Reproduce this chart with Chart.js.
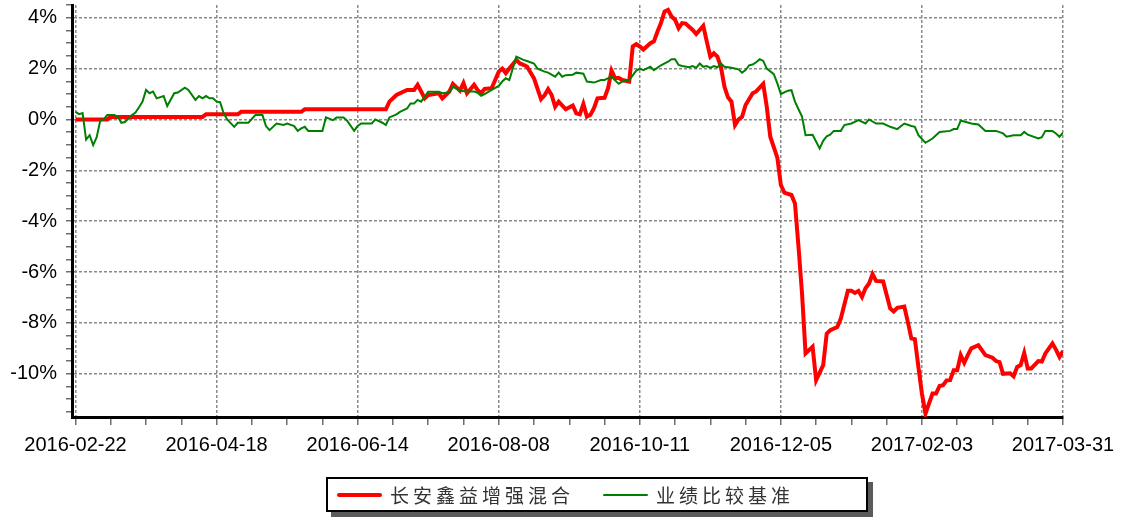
<!DOCTYPE html>
<html>
<head>
<meta charset="utf-8">
<script src="https://cdn.jsdelivr.net/npm/chart.js@4.4.1/dist/chart.umd.min.js"></script>
<style>
    html, body { margin: 0; padding: 0; background: #fff; }
    #wrap { position: relative; width: 1122px; height: 519px; }
    #legend {
        position: absolute; left: 326px; top: 477px; width: 538px; height: 31px;
        border: 2px solid #000; background: #fff; box-shadow: 5px 5px 0 #5a5a5a;
        font-family: "Noto Sans CJK SC", sans-serif; font-size: 19px; letter-spacing: 4px; color: #333;
    }
    .item { position: absolute; top: 0; height: 31px; display: flex; align-items: center; white-space: nowrap; }
    .swatch { width: 45px; margin-right: 8px; border-radius: 2px; }
</style>
</head>
<body>
<div id="wrap">
    <canvas id="chart" width="1122" height="519"></canvas>
    <div id="legend"></div>
</div>
<script>
// 1. x축 눈금 날짜 (40칸마다 하나씩)
const tickDates = ['2016-02-22', '2016-04-18', '2016-06-14', '2016-08-08', '2016-10-11', '2016-12-05', '2017-02-03', '2017-03-31'];
const seriesNames = ['长安鑫益增强混合', '业绩比较基准'];

// 2. 펀드 수익률 (%) - 위치(거래일 순번)와 값
const fundDays = [0, 9, 10, 36, 37, 46, 47, 64, 65, 88, 89, 91, 94, 96, 97, 98, 99, 100, 103, 104,
    106, 107, 109, 110, 111, 113, 114, 115, 116, 118, 119, 120, 121, 122, 123, 125, 126, 127, 128, 130,
    132, 133, 134, 135, 136, 137, 139, 141, 142, 143, 144, 145, 146, 147, 148, 150, 151, 152, 153, 154,
    155, 157, 158, 159, 160, 161, 163, 164, 165, 166, 167, 168, 169, 170, 171, 172, 173, 175, 176, 178,
    179, 180, 181, 182, 183, 184, 185, 186, 187, 188, 189, 190, 192, 193, 195, 196, 197, 199, 200, 201,
    203, 204, 205, 206, 207, 209, 210, 212, 213, 214, 216, 217, 219, 220, 221, 222, 223, 224, 225, 226,
    227, 229, 231, 232, 233, 235, 236, 237, 238, 239, 240, 241, 243, 244, 245, 246, 247, 248, 249, 250,
    251, 252, 253, 254, 256, 257, 258, 260, 261, 262, 263, 265, 266, 267, 268, 269, 270, 271, 273, 274,
    275, 277, 278, 279, 280];
const fundValues = [0, 0, 0.1, 0.1, 0.2, 0.2, 0.3, 0.3, 0.4, 0.4, 0.7, 0.96, 1.16, 1.16, 1.36, 1.1, 0.83, 0.96, 1.03, 0.83,
    1.1, 1.4, 1.13, 1.43, 1.03, 1.36, 1.16, 1.03, 1.2, 1.23, 1.55, 1.88, 2.0, 1.82, 2.0, 2.34, 2.2, 2.15, 2.08, 1.62,
    0.8, 0.95, 1.19, 0.96, 0.5, 0.7, 0.4, 0.55, 0.24, 0.2, 0.61, 0.11, 0.18, 0.44, 0.83, 0.85, 1.23, 1.92, 1.62, 1.64,
    1.55, 1.49, 2.87, 2.96, 2.87, 2.75, 3.0, 3.07, 3.45, 3.79, 4.24, 4.31, 4.05, 3.92, 3.59, 3.79, 3.77, 3.52, 3.36, 3.68,
    3.06, 2.47, 2.6, 2.47, 2.07, 1.29, 0.87, 0.7, -0.22, 0, 0.1, 0.57, 1.03, 1.1, 1.4, 0.5, -0.68, -1.5, -2.58, -2.88,
    -2.97, -3.3, -5.0, -6.84, -9.2, -8.94, -10.25, -9.66, -8.42, -8.29, -8.16, -7.83, -6.74, -6.74, -6.82, -6.74, -6.98, -6.64, -6.45, -6.08,
    -6.35, -6.37, -7.43, -7.55, -7.41, -7.36, -7.96, -8.61, -8.64, -9.73, -10.78, -11.57, -10.78, -10.78, -10.48, -10.45, -10.26, -10.25, -9.86, -9.86,
    -9.27, -9.57, -9.27, -9.0, -8.88, -9.07, -9.27, -9.37, -9.5, -9.54, -10.0, -9.98, -10.1, -9.73, -9.66, -9.18, -9.79, -9.79, -9.5, -9.52,
    -9.2, -8.81, -9.05, -9.34, -9.1];

// 3. 업적 비교 기준 (%)
const benchDays = [0, 1, 2, 3, 4, 5, 6, 7, 8, 9, 11, 12, 13, 14, 16, 17, 18, 19, 20, 21,
    22, 23, 25, 26, 28, 29, 31, 32, 34, 35, 36, 37, 38, 39, 40, 41, 42, 43, 45, 46,
    49, 51, 53, 54, 55, 57, 59, 60, 62, 63, 64, 65, 66, 70, 71, 73, 74, 76, 77, 79,
    80, 81, 84, 85, 87, 88, 89, 91, 92, 94, 95, 96, 97, 98, 100, 103, 104, 106, 107, 109,
    111, 113, 114, 115, 116, 118, 120, 121, 122, 123, 125, 127, 128, 130, 131, 133, 134, 136, 137, 138,
    139, 141, 142, 144, 145, 147, 149, 150, 152, 154, 155, 157, 159, 160, 161, 163, 164, 166, 168, 169,
    170, 171, 172, 174, 175, 176, 177, 178, 179, 180, 181, 182, 183, 184, 186, 188, 189, 190, 191, 192,
    193, 194, 195, 196, 198, 199, 200, 202, 203, 204, 205, 206, 207, 209, 211, 212, 213, 214, 215, 217,
    218, 220, 222, 224, 225, 227, 229, 231, 233, 235, 237, 238, 239, 241, 243, 245, 248, 249, 250, 251,
    252, 254, 256, 258, 261, 263, 264, 266, 268, 269, 270, 273, 274, 275, 277, 278, 279, 280];
const benchValues = [0.3, 0.21, 0.25, -0.79, -0.62, -1.01, -0.7, -0.05, 0, 0.17, 0.17, 0.1, -0.13, -0.1, 0.17, 0.27, 0.48, 0.7, 1.16, 1.03,
    1.1, 0.83, 0.92, 0.53, 1.03, 1.06, 1.25, 1.16, 0.77, 0.92, 0.83, 0.92, 0.83, 0.83, 0.7, 0.68, 0.24, 0, -0.29, -0.13,
    -0.13, 0.17, 0.17, -0.26, -0.42, -0.16, -0.22, -0.16, -0.26, -0.45, -0.35, -0.29, -0.45, -0.45, 0.08, -0.03, 0.08, 0.08, -0.05, -0.45,
    -0.26, -0.16, -0.16, 0, -0.13, -0.22, 0.08, 0.2, 0.3, 0.43, 0.63, 0.63, 0.77, 0.7, 1.09, 1.09, 1.03, 1.06, 1.29, 1.13,
    1.1, 1.1, 1.05, 0.93, 1.0, 1.16, 1.32, 1.49, 1.62, 1.55, 2.47, 2.34, 2.3, 2.2, 2.0, 1.88, 1.84, 1.68, 1.84, 1.68,
    1.74, 1.76, 1.84, 1.8, 1.49, 1.45, 1.55, 1.55, 1.68, 1.4, 1.49, 1.55, 1.92, 2.0, 1.94, 2.07, 1.94, 2.13, 2.27, 2.37,
    2.37, 2.14, 2.1, 2.05, 2.1, 2.03, 2.2, 2.07, 2.1, 2.03, 2.1, 2.05, 2.2, 2.07, 2.03, 1.97, 1.84, 1.94, 2.13, 2.16,
    2.25, 2.37, 2.3, 2.0, 1.78, 1.42, 1.0, 1.13, 1.15, 0.7, 0.4, 0.11, -0.62, -0.6, -1.14, -0.84, -0.66, -0.6, -0.45, -0.45,
    -0.22, -0.16, -0.03, -0.16, 0, -0.16, -0.16, -0.29, -0.38, -0.16, -0.26, -0.29, -0.62, -0.92, -0.75, -0.49, -0.45, -0.38, -0.38, -0.05,
    -0.08, -0.16, -0.2, -0.45, -0.45, -0.55, -0.68, -0.62, -0.62, -0.49, -0.6, -0.75, -0.7, -0.45, -0.45, -0.55, -0.68, -0.52];

const seriesColors = ['#ff0000', '#008000'];

// 눈금 위치: x는 10칸마다(40칸마다 라벨), y는 0.5%마다(2%마다 라벨)
const xTickValues = [];
for (let v = 0; v <= 280; v += 10) xTickValues.push(v);
const yTickValues = [];
for (let v = -23; v <= 9; v++) yTickValues.push(v / 2);

const isMajorX = v => v % 40 === 0;
const isMajorY = v => Math.abs(v % 2) < 1e-9;

Chart.defaults.font.family = '"Liberation Sans", Arial, sans-serif';
Chart.defaults.font.size = 20;
Chart.defaults.color = '#000';

const gridStyle = (isMajor) => ({
    color: c => (c.tick && isMajor(c.tick.value)) ? '#8a8a8a' : 'rgba(0,0,0,0)',
    lineWidth: 1.5,
    tickColor: '#6e6e6e',
    tickWidth: 1.5
});

// 4. 그래프 그리기
new Chart(document.getElementById('chart'), {
    type: 'line',
    data: {
        datasets: [
            {
                label: seriesNames[0],
                data: fundDays.map((d, i) => ({ x: d, y: fundValues[i] })),
                borderColor: seriesColors[0],
                borderWidth: 4,
                pointRadius: 0,
                tension: 0,
                order: 1
            },
            {
                label: seriesNames[1],
                data: benchDays.map((d, i) => ({ x: d, y: benchValues[i] })),
                borderColor: seriesColors[1],
                borderWidth: 2,
                pointRadius: 0,
                tension: 0,
                order: 0
            }
        ]
    },
    options: {
        responsive: false,
        animation: false,
        devicePixelRatio: 1,
        layout: { padding: { top: 5, right: 59, bottom: 42, left: 0 } },
        plugins: { legend: { display: false }, tooltip: { enabled: false } },
        scales: {
            x: {
                type: 'linear',
                min: -1,
                max: 280,
                afterBuildTicks: s => { s.ticks = xTickValues.map(v => ({ value: v })); },
                afterFit: s => { s.height = 60; s.paddingLeft = 0; s.paddingRight = 0; },
                ticks: {
                    autoSkip: false,
                    maxRotation: 0,
                    padding: 8,
                    callback: v => isMajorX(v) ? tickDates[v / 40] : ''
                },
                grid: { ...gridStyle(isMajorX), tickLength: 8 },
                border: { display: true, color: '#000', width: 3, dash: [3, 2] }
            },
            y: {
                min: -11.7,
                max: 4.5,
                afterBuildTicks: s => { s.ticks = yTickValues.map(v => ({ value: v })); },
                afterFit: s => { s.width = 72; s.paddingTop = 0; s.paddingBottom = 0; },
                ticks: {
                    autoSkip: false,
                    padding: 9,
                    callback: v => isMajorY(v) ? v + '%' : ''
                },
                grid: { ...gridStyle(isMajorY), tickLength: 6 },
                border: { display: true, color: '#000', width: 3, dash: [3, 2] }
            }
        }
    }
});

// 5. 범례 (테두리 + 그림자 상자)
const legend = document.getElementById('legend');
const itemLeft = [9, 275];
const lineHeights = [4, 2];
seriesNames.forEach((name, i) => {
    const item = document.createElement('div');
    item.className = 'item';
    item.style.left = itemLeft[i] + 'px';
    const sw = document.createElement('span');
    sw.className = 'swatch';
    sw.style.height = lineHeights[i] + 'px';
    sw.style.background = seriesColors[i];
    const label = document.createElement('span');
    label.textContent = name;
    item.appendChild(sw);
    item.appendChild(label);
    legend.appendChild(item);
});
</script>
</body>
</html>
